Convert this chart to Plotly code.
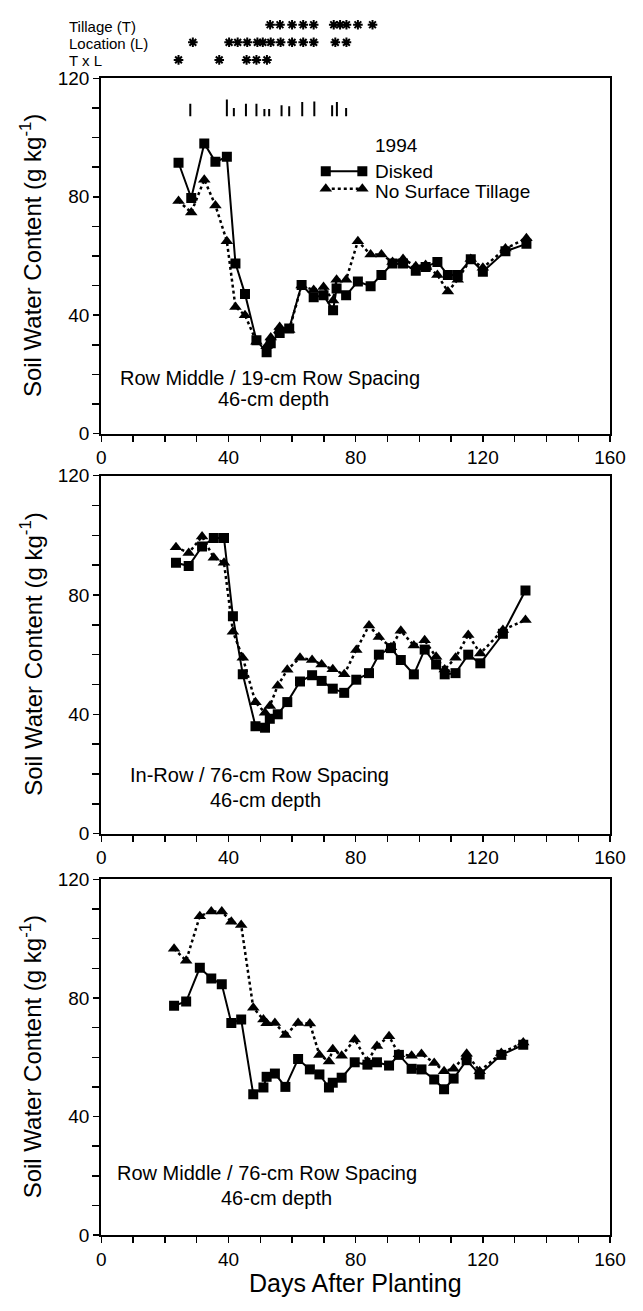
import plotly.graph_objects as go

# ---------------- data ----------------
# Panel 1: Row Middle / 19-cm Row Spacing
days_p1 = [24.3, 28.3, 32.4, 35.9, 39.5, 42.2, 45.2, 48.8, 52.0, 53.3, 56.1, 59.1,
           63.0, 66.8, 69.9, 72.9, 74.0, 77.0, 80.7, 84.7, 88.1, 91.6, 94.9, 98.9,
           102.0, 105.7, 109.0, 112.1, 116.2, 120.0, 127.1, 133.7]
disked_p1 = [91.5, 79.6, 98.0, 91.8, 93.5, 57.5, 47.2, 31.5, 27.5, 30.5, 34.0, 35.5,
             50.2, 46.1, 46.7, 41.7, 49.0, 46.7, 51.4, 49.8, 53.6, 57.5, 57.5, 55.0,
             56.3, 58.0, 53.6, 53.6, 58.9, 54.7, 61.6, 64.1]
nst_p1 = [78.6, 74.7, 85.8, 77.1, 65.0, 42.8, 40.0, 31.0, 29.5, 32.5, 36.0, 35.0,
          50.0, 48.5, 49.5, 45.0, 52.0, 52.0, 65.0, 60.5, 60.5, 58.0, 59.0, 56.5,
          57.0, 53.6, 48.0, 52.0, 59.0, 56.0, 62.5, 66.0]

# Panel 2: In-Row / 76-cm Row Spacing
days_p2 = [23.5, 27.5, 31.7, 35.4, 38.6, 41.4, 44.5, 48.5, 51.5, 53.0, 55.5, 58.5,
           62.5, 66.3, 69.3, 72.8, 76.4, 80.2, 84.2, 87.3, 91.1, 94.2, 98.3, 101.7,
           105.3, 108.0, 111.4, 115.4, 119.2, 126.3, 133.4]
disked_p2 = [90.8, 89.7, 96.3, 99.1, 99.1, 72.9, 53.4, 36.0, 35.5, 38.5, 40.0, 44.1,
             51.0, 53.1, 51.2, 48.6, 47.2, 51.6, 53.8, 60.0, 62.2, 58.2, 53.4, 61.7,
             56.7, 53.4, 53.8, 60.0, 57.1, 67.0, 81.5]
nst_p2 = [96.0, 94.1, 99.6, 92.5, 90.8, 67.7, 59.0, 44.0, 40.5, 42.8, 49.6, 54.9,
          59.0, 58.2, 56.7, 55.1, 53.4, 61.6, 69.8, 65.9, 62.5, 68.0, 63.1, 64.8,
          59.3, 55.0, 59.0, 66.6, 60.4, 68.3, 71.6]

# Panel 3: Row Middle / 76-cm Row Spacing
days_p3 = [22.9, 26.7, 31.0, 34.6, 37.9, 40.9, 44.0, 47.8, 51.0, 52.0, 54.6, 57.9,
           61.9, 65.6, 68.6, 71.6, 72.8, 75.6, 79.7, 83.7, 86.7, 90.5, 93.6, 97.6,
           100.7, 104.7, 107.8, 110.8, 114.9, 119.0, 125.8, 132.7]
disked_p3 = [77.4, 78.8, 90.2, 86.6, 84.6, 71.6, 72.7, 47.5, 49.8, 53.4, 54.5, 50.0,
             59.4, 55.9, 54.2, 49.8, 51.4, 53.1, 58.3, 57.5, 58.3, 57.2, 60.8, 56.1,
             55.9, 52.5, 49.2, 52.8, 59.0, 54.2, 60.8, 64.2]
nst_p3 = [96.6, 92.6, 107.6, 109.2, 109.2, 105.7, 104.6, 76.7, 72.7, 71.5, 71.6, 67.5,
          71.6, 71.4, 60.8, 58.6, 62.7, 60.5, 66.0, 58.6, 63.8, 67.1, 61.0, 60.5,
          61.1, 58.1, 55.3, 56.1, 61.2, 55.3, 61.4, 65.0]

# LSD bars (panel 1, top)
lsd_days = [28.0, 39.5, 41.7, 45.5, 48.8, 51.3, 52.8, 56.7, 59.1, 63.2, 67.0, 72.6, 74.1, 77.0]
lsd_len = [4.2, 5.7, 2.8, 4.2, 4.2, 2.5, 2.5, 3.7, 3.4, 4.8, 5.0, 3.7, 4.8, 2.8]
lsd_base = 107.2

# Significance asterisks (days)
tillage_sig_days = [53.1, 56.2, 60.0, 63.5, 66.8, 73.1, 75.1, 77.1, 80.7, 85.3]
location_sig_days = [28.8, 40.2, 42.9, 45.9, 49.1, 50.8, 53.3, 56.4, 60.0, 63.5, 66.8, 73.6, 77.1]
txl_sig_days = [24.3, 37.1, 45.7, 48.8, 52.1]
sig_row_labels = ["Tillage (T)", "Location (L)", "T x L"]

panel_titles = [["Row Middle / 19-cm Row Spacing", "46-cm depth"],
                ["In-Row / 76-cm Row Spacing", "46-cm depth"],
                ["Row Middle / 76-cm Row Spacing", "46-cm depth"]]
series_names = ["Disked", "No Surface Tillage"]
year_label = "1994"
x_title = "Days After Planting"
y_title = "Soil Water Content (g kg<sup>-1</sup>)"

# ---------------- layout helpers ----------------
W, H = 643, 1311
FONT = "Liberation Sans, Arial, Helvetica, sans-serif"


def px_x(p):
    return p / W


def px_y(p):
    return 1 - p / H


X_DOM = [px_x(99.5), px_x(625.5)]
Y_DOMS = [[px_y(430.5), px_y(69.5)],
          [px_y(837.0), px_y(473.3)],
          [px_y(1245.0), px_y(883.6)]]
# panel title positions (day, value) for line 1 and line 2
TITLE_POS = [[(53.0, 18.8), (54.3, 11.8)],
             [(49.8, 19.8), (51.8, 11.2)],
             [(52.0, 20.9), (55.0, 12.6)]]

fig = go.Figure()
panels = [(days_p1, disked_p1, nst_p1), (days_p2, disked_p2, nst_p2), (days_p3, disked_p3, nst_p3)]

annotations = []
for i, (days, dk, ns) in enumerate(panels):
    xa = "x" if i == 0 else f"x{i + 1}"
    ya = "y" if i == 0 else f"y{i + 1}"
    fig.add_trace(go.Scatter(x=days, y=ns, mode="lines+markers", name=series_names[1],
                             line=dict(color="black", width=2.5, dash="dot"),
                             marker=dict(symbol="triangle-up", size=11, color="black"),
                             xaxis=xa, yaxis=ya, showlegend=False))
    fig.add_trace(go.Scatter(x=days, y=dk, mode="lines+markers", name=series_names[0],
                             line=dict(color="black", width=2),
                             marker=dict(symbol="square", size=10, color="black"),
                             xaxis=xa, yaxis=ya, showlegend=False))
    axis_common = dict(showline=True, linewidth=2, linecolor="black", mirror=True,
                       showgrid=False, zeroline=False, ticks="outside", ticklen=6,
                       tickwidth=1.5, tickcolor="black",
                       tickfont=dict(size=19, color="black", family=FONT))
    fig.layout[xa.replace("x", "xaxis")] = dict(
        domain=X_DOM, range=[0, 160], anchor=ya, tickmode="linear", tick0=0, dtick=40,
        minor=dict(dtick=10, tick0=0, ticks="outside", ticklen=6, tickwidth=1.5, tickcolor="black"),
        **axis_common)
    fig.layout[ya.replace("y", "yaxis")] = dict(
        domain=Y_DOMS[i], range=[0, 120], anchor=xa, tickmode="linear", tick0=0, dtick=40,
        minor=dict(dtick=10, tick0=0, ticks="outside", ticklen=7, tickwidth=1.5, tickcolor="black"),
        **axis_common)
    # y title
    annotations.append(dict(text=y_title, x=px_x(27), y=(Y_DOMS[i][0] + Y_DOMS[i][1]) / 2,
                            xref="paper", yref="paper", xanchor="center", yanchor="middle",
                            textangle=-90, showarrow=False,
                            font=dict(size=24, family=FONT, color="black")))
    for (tx, ty), line in zip(TITLE_POS[i], panel_titles[i]):
        annotations.append(dict(text=line, x=tx, y=ty, xref=xa, yref=ya, showarrow=False,
                                xanchor="center", yanchor="middle",
                                font=dict(size=20, family=FONT, color="black")))

# LSD bars in panel 1
lx, ly = [], []
for d, ln in zip(lsd_days, lsd_len):
    lx += [d, d, None]
    ly += [lsd_base, lsd_base + ln, None]
fig.add_trace(go.Scatter(x=lx, y=ly, mode="lines", line=dict(color="black", width=2),
                         xaxis="x", yaxis="y", showlegend=False))

# Legend key (panel 1)
LEG_X = [70.6, 82.1]
fig.add_trace(go.Scatter(x=LEG_X, y=[88.6, 88.6], mode="lines+markers",
                         line=dict(color="black", width=2),
                         marker=dict(symbol="square", size=10, color="black"),
                         xaxis="x", yaxis="y", showlegend=False))
fig.add_trace(go.Scatter(x=LEG_X, y=[82.7, 82.7], mode="lines+markers",
                         line=dict(color="black", width=2.5, dash="dot"),
                         marker=dict(symbol="triangle-up", size=11, color="black"),
                         xaxis="x", yaxis="y", showlegend=False))
for txt, yv in [(year_label, 97.2), (series_names[0], 88.4), (series_names[1], 81.9)]:
    annotations.append(dict(text=txt, x=85.6, y=yv, xref="x", yref="y", xanchor="left",
                            yanchor="middle", showarrow=False,
                            font=dict(size=19, family=FONT, color="black")))

# Significance asterisks (extra axis above panel 1), drawn as asterisk markers
for row, sig in zip([3, 2, 1], [tillage_sig_days, location_sig_days, txl_sig_days]):
    fig.add_trace(go.Scatter(x=sig, y=[row] * len(sig), mode="markers",
                             marker=dict(symbol="asterisk-open", size=8, color="black",
                                         line=dict(color="black", width=2)),
                             xaxis="x", yaxis="y4", showlegend=False, cliponaxis=False))
fig.layout.yaxis4 = dict(domain=[px_y(69.5), 1], range=[-0.053, 3.84], visible=False, anchor="x")
for lab, yc in zip(sig_row_labels, [16.5, 34.0, 51.0]):
    annotations.append(dict(text=lab, x=px_x(64), y=px_y(yc), xref="paper", yref="paper",
                            xanchor="left", yanchor="middle", showarrow=False,
                            font=dict(size=15, family=FONT, color="black")))

annotations.append(dict(text=x_title, x=(X_DOM[0] + X_DOM[1]) / 2, y=px_y(1294),
                        xref="paper", yref="paper", xanchor="center", yanchor="middle",
                        showarrow=False, font=dict(size=25, family=FONT, color="black")))

fig.update_layout(width=W, height=H, margin=dict(l=0, r=0, t=0, b=0),
                  paper_bgcolor="white", plot_bgcolor="white", hovermode=False,
                  font=dict(family=FONT, color="black"), annotations=annotations)

fig.write_html("out.html", config={"displayModeBar": False, "staticPlot": True},
               post_script="document.body.style.margin='0';")
